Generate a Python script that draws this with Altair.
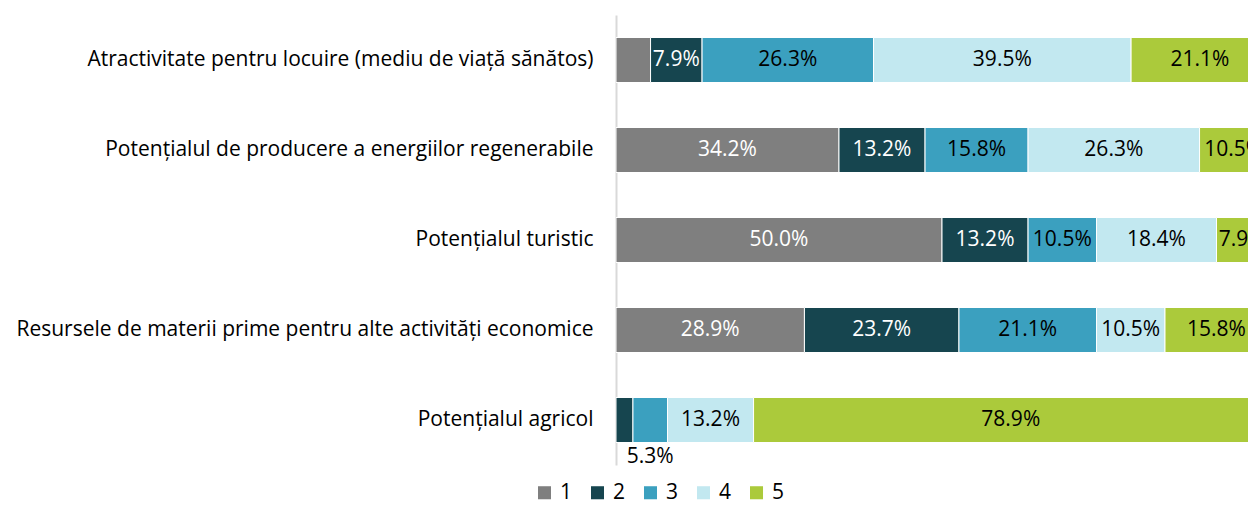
import altair as alt
import pandas as pd

categories = [
    "Atractivitate pentru locuire (mediu de viață sănătos)",
    "Potențialul de producere a energiilor regenerabile",
    "Potențialul turistic",
    "Resursele de materii prime pentru alte activități economice",
    "Potențialul agricol",
]
series = ["1", "2", "3", "4", "5"]
s1 = [5.3, 34.2, 50.0, 28.9, 0.0]
s2 = [7.9, 13.2, 13.2, 23.7, 2.6]
s3 = [26.3, 15.8, 10.5, 21.1, 5.3]
s4 = [39.5, 26.3, 18.4, 10.5, 13.2]
s5 = [21.1, 10.5, 7.9, 15.8, 78.9]
colors = ["#7f7f7f", "#16454f", "#3ba0bf", "#c2e8f0", "#abca3b"]

# labels not printed, and the one label printed under its bar
hidden = [(0, "1"), (4, "1"), (4, "2")]
below = [(4, "3")]

rows = []
for i, c in enumerate(categories):
    for s, vals in zip(series, [s1, s2, s3, s4, s5]):
        rows.append({
            "cat": c,
            "series": s,
            "value": vals[i],
            "label": f"{vals[i]:.1f}%",
            "show": (i, s) not in hidden and (i, s) not in below,
            "below": (i, s) in below,
        })
df = pd.DataFrame(rows)

FONT = "Open Sans"
FS = 21

base = alt.Chart(df).transform_stack(
    stack="value", groupby=["cat"], as_=["x0", "x1"], sort=[{"field": "series", "order": "ascending"}]
).transform_calculate(mid="(datum.x0 + datum.x1) / 2")

xscale = alt.Scale(domain=[0, 96.93], nice=False, zero=True)
yenc = alt.Y(
    "cat:N",
    sort=categories,
    title=None,
    scale=alt.Scale(paddingInner=0.5, paddingOuter=0.25),
    axis=alt.Axis(
        ticks=False,
        domainColor="#d9d9d9",
        domainWidth=2,
        labelFontSize=FS,
        labelFont=FONT,
        labelColor="#000000",
        labelPadding=23,
        labelLimit=700,
        grid=False,
    ),
)

bars = base.mark_bar(clip=True, stroke="white", strokeWidth=1).encode(
    x=alt.X("x0:Q", scale=xscale, axis=None),
    x2="x1:Q",
    y=yenc,
    color=alt.Color(
        "series:N",
        scale=alt.Scale(domain=series, range=colors),
        legend=alt.Legend(
            title=None,
            orient="none",
            direction="horizontal",
            legendX=-82,
            legendY=467,
            symbolType="square",
            symbolSize=170,
            symbolStrokeWidth=0,
            labelFontSize=FS,
            labelFont=FONT,
            labelColor="#000000",
            labelOffset=5,
            columnPadding=14,
            padding=0,
        ),
    ),
)

txt_color = alt.condition(
    "datum.series == '1' || datum.series == '2'", alt.value("white"), alt.value("black")
)

labels_in = base.transform_filter("datum.show").mark_text(
    clip=True, fontSize=FS, font=FONT, baseline="middle", align="center"
).encode(
    x=alt.X("mid:Q", scale=xscale, axis=None),
    y=alt.Y("cat:N", sort=categories),
    text="label:N",
    color=txt_color,
)

labels_below = base.transform_filter("datum.below").mark_text(
    fontSize=FS, font=FONT, baseline="middle", align="center", dy=37, color="black"
).encode(
    x=alt.X("mid:Q", scale=xscale, axis=None),
    y=alt.Y("cat:N", sort=categories),
    text="label:N",
)

chart = (
    alt.layer(bars, labels_in, labels_below)
    .properties(
        width=632,
        height=450,
        autosize=alt.AutoSizeParams(type="none"),
        padding={"left": 608, "top": 7, "right": 0, "bottom": 40},
        background="white",
    )
    .configure_view(stroke=None)
)

chart.save("out.html", embed_options={"renderer": "svg", "actions": False})
